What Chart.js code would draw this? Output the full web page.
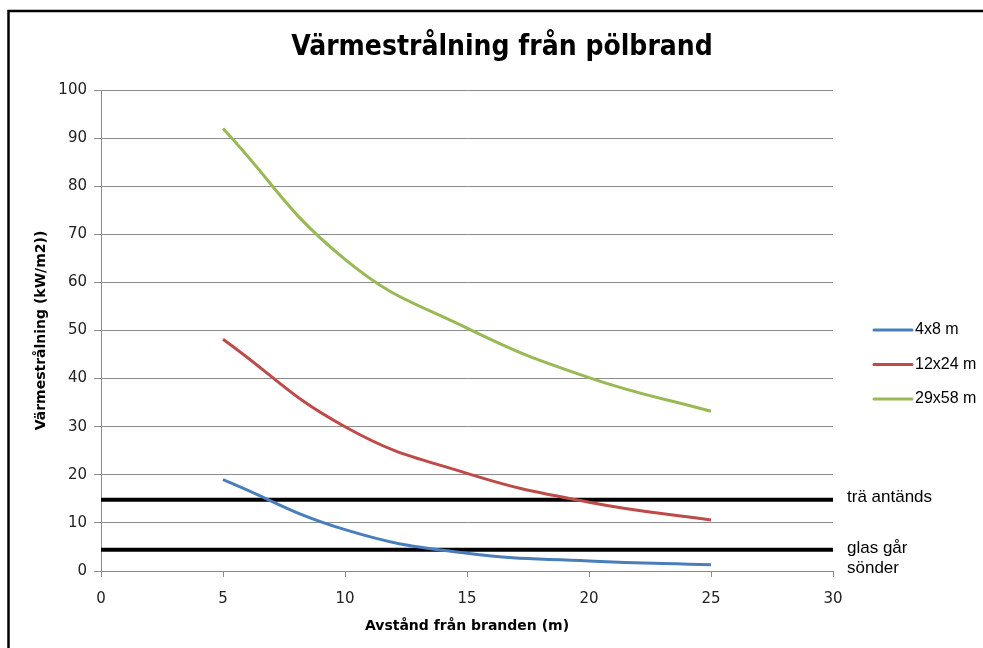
<!DOCTYPE html>
<html>
<head>
<meta charset="utf-8">
<script src="https://cdn.jsdelivr.net/npm/chart.js@4/dist/chart.umd.min.js"></script>
<style>
  html, body { margin: 0; padding: 0; background: #fff; }
  #wrap { width: 983px; height: 648px; position: relative; }
</style>
</head>
<body>
<div id="wrap"><canvas id="c" width="983" height="648"></canvas></div>
<script>
// Distance from the fire (m)
const distances = [5, 10, 15, 20, 25];

// Radiated heat (kW/m2) for each pool size
const pool4x8 = [19.0, 8.6, 3.7, 2.1, 1.3];
const pool12x24 = [48.2, 30.0, 20.3, 14.3, 10.6];
const pool29x58 = [92.0, 64.8, 50.5, 40.2, 33.2];

const seriesNames = ['4x8 m', '12x24 m', '29x58 m'];

// Threshold levels (kW/m2) and their labels
const thresholdSpan = [0, 30];
const woodIgnites = 14.8;
const glassBreaks = 4.4;
const thresholdLabels = [['trä antänds'], ['glas går', 'sönder']];

const xTicks = [0, 5, 10, 15, 20, 25, 30];
const yTicks = [0, 10, 20, 30, 40, 50, 60, 70, 80, 90, 100];

const colors = ['#4A7EBB', '#BE4B48', '#98B954'];

const toPoints = (xs, ys) => xs.map((x, i) => ({ x: x, y: ys[i] }));

const seriesDatasets = [pool4x8, pool12x24, pool29x58].map((vals, i) => ({
  label: seriesNames[i],
  data: toPoints(distances, vals),
  borderColor: colors[i],
  backgroundColor: colors[i],
  borderWidth: 3,
  pointRadius: 0,
  tension: 0.45,
  fill: false,
  isSeries: true
}));

const thresholdDatasets = [woodIgnites, glassBreaks].map((level, i) => ({
  label: thresholdLabels[i].join(' '),
  data: thresholdSpan.map(x => ({ x: x, y: level })),
  borderColor: '#000',
  borderWidth: 4,
  pointRadius: 0,
  tension: 0,
  fill: false,
  isSeries: false,
  textLines: thresholdLabels[i]
}));

// Frame, title, legend and threshold captions
const decorations = {
  id: 'decorations',
  beforeDraw(chart) {
    const ctx = chart.ctx;
    ctx.save();
    ctx.fillStyle = '#fff';
    ctx.fillRect(0, 0, chart.width, chart.height);
    ctx.restore();
  },
  afterDraw(chart) {
    const ctx = chart.ctx;
    const yScale = chart.scales.y;
    ctx.save();

    // outer frame
    ctx.strokeStyle = '#000';
    ctx.lineWidth = 2.5;
    ctx.beginPath();
    ctx.moveTo(8.5, chart.height + 5);
    ctx.lineTo(8.5, 11);
    ctx.lineTo(chart.width + 5, 11);
    ctx.stroke();

    // title
    ctx.fillStyle = '#000';
    ctx.font = 'bold 28px "Liberation Sans Narrow", "DejaVu Sans Condensed", sans-serif';
    ctx.textAlign = 'center';
    ctx.textBaseline = 'alphabetic';
    ctx.fillText('Värmestrålning från pölbrand', 502, 55);

    // legend
    ctx.font = '16px "Liberation Sans", Arial, sans-serif';
    ctx.textAlign = 'left';
    ctx.textBaseline = 'middle';
    const rows = [330, 364.5, 399];
    chart.data.datasets.filter(d => d.isSeries).forEach((d, i) => {
      ctx.strokeStyle = d.borderColor;
      ctx.lineWidth = 3;
      ctx.lineCap = 'round';
      ctx.beginPath();
      ctx.moveTo(874, rows[i]);
      ctx.lineTo(912, rows[i]);
      ctx.stroke();
      ctx.fillStyle = '#000';
      ctx.fillText(d.label, 915, rows[i]);
    });

    // threshold captions next to the black lines
    ctx.font = '17px "Liberation Sans", Arial, sans-serif';
    ctx.fillStyle = '#000';
    chart.data.datasets.filter(d => !d.isSeries).forEach(d => {
      const yy = yScale.getPixelForValue(d.data[0].y);
      const lines = d.textLines;
      lines.forEach((t, k) => {
        const off = lines.length === 1 ? -2 : (k === 0 ? -2 : 18);
        ctx.fillText(t, 847, yy + off);
      });
    });
    ctx.restore();
  }
};

new Chart(document.getElementById('c'), {
  type: 'line',
  data: { datasets: seriesDatasets.concat(thresholdDatasets) },
  plugins: [decorations],
  options: {
    responsive: false,
    animation: false,
    devicePixelRatio: 1,
    layout: { padding: { left: 0, right: 150, top: 90, bottom: 0 } },
    plugins: {
      legend: { display: false },
      title: { display: false },
      tooltip: { enabled: false }
    },
    scales: {
      x: {
        type: 'linear',
        min: 0,
        max: 30,
        afterFit(scale) { scale.height = 77; },
        afterBuildTicks(scale) { scale.ticks = xTicks.map(v => ({ value: v })); },
        ticks: {
          padding: 13,
          color: '#222',
          font: { family: '"DejaVu Sans", Verdana, sans-serif', size: 15 }
        },
        grid: {
          drawOnChartArea: false,
          drawTicks: true,
          tickLength: 6,
          color: '#8c8c8c',
          lineWidth: 1
        },
        border: { display: true, color: '#8c8c8c', width: 1 },
        title: {
          display: true,
          text: 'Avstånd från branden (m)',
          color: '#000',
          font: { family: '"DejaVu Sans", Verdana, sans-serif', size: 14, weight: 'bold' },
          padding: { top: 0, bottom: 13 }
        }
      },
      y: {
        type: 'linear',
        min: 0,
        max: 100,
        afterFit(scale) { scale.width = 101; },
        afterBuildTicks(scale) { scale.ticks = yTicks.map(v => ({ value: v })); },
        ticks: {
          padding: 7,
          color: '#222',
          font: { family: '"DejaVu Sans", Verdana, sans-serif', size: 15 }
        },
        grid: {
          drawTicks: true,
          tickLength: 7,
          color: '#8c8c8c',
          lineWidth: 1
        },
        border: { display: true, color: '#8c8c8c', width: 1 },
        title: {
          display: true,
          text: 'Värmestrålning (kW/m2))',
          color: '#000',
          font: { family: '"DejaVu Sans", Verdana, sans-serif', size: 14, weight: 'bold' },
          padding: { top: 33, bottom: 0 }
        }
      }
    }
  }
});
</script>
</body>
</html>
